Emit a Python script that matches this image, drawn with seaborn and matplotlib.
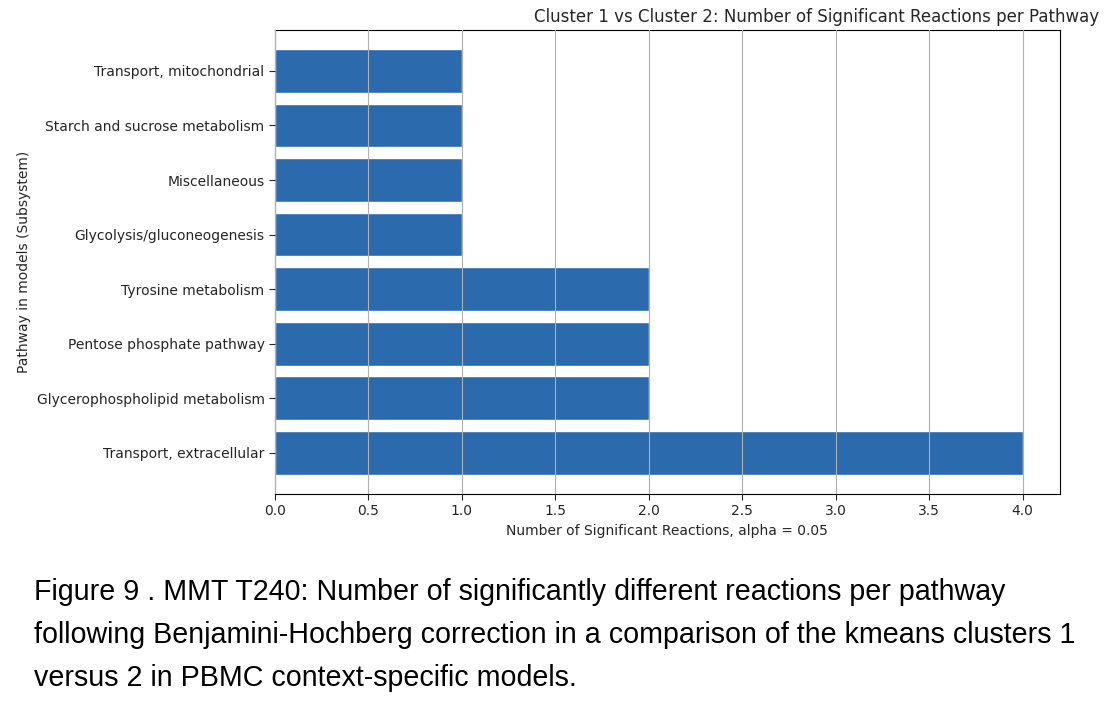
import matplotlib
matplotlib.use("Agg")
import matplotlib.pyplot as plt
import seaborn as sns
import pandas as pd

pathways = ["Transport, mitochondrial", "Starch and sucrose metabolism", "Miscellaneous",
            "Glycolysis/gluconeogenesis", "Tyrosine metabolism", "Pentose phosphate pathway",
            "Glycerophospholipid metabolism", "Transport, extracellular"]
counts = [1, 1, 1, 1, 2, 2, 2, 4]

df = pd.DataFrame({"pathway": pathways, "count": counts})

sns.set_style("white")
plt.rcParams["font.family"] = ["DejaVu Sans"]

fig = plt.figure(figsize=(11.11, 7.24), dpi=100)
ax = fig.add_axes([0.2475, 0.318, 0.7065, 0.6406])
sns.barplot(data=df, x="count", y="pathway", color="#2a6aad", saturation=1,
            width=0.8, ax=ax, orient="h")
ax.set_xlim(0, 4.2)
ax.set_ylim(7.75, -0.75)
ax.set_xticks([0, 0.5, 1, 1.5, 2, 2.5, 3, 3.5, 4])
ax.set_xticklabels(["0.0", "0.5", "1.0", "1.5", "2.0", "2.5", "3.0", "3.5", "4.0"])
ax.grid(axis="x", color="#b0b0b0", linewidth=0.8)
ax.set_axisbelow(False)
for s in ax.spines.values():
    s.set_color("black")
    s.set_linewidth(0.8)
ax.tick_params(axis="both", labelsize=10, length=4, left=True, bottom=True)
ax.set_xlabel("Number of Significant Reactions, alpha = 0.05", fontsize=10)
ax.set_ylabel("Pathway in models (Subsystem)", fontsize=10)
ax.set_title("Cluster 1 vs Cluster 2: Number of Significant Reactions per Pathway",
             fontsize=12, x=0.69)

caption = ("Figure 9 . MMT T240: Number of significantly different reactions per pathway\n"
           "following Benjamini-Hochberg correction in a comparison of the kmeans clusters 1\n"
           "versus 2 in PBMC context-specific models.")
fig.text(0.031, 1 - 578 / 724, caption, fontsize=20.6, family="Liberation Sans",
         color="black", va="top", ha="left", linespacing=1.68)

fig.savefig("out.png", dpi=100)
